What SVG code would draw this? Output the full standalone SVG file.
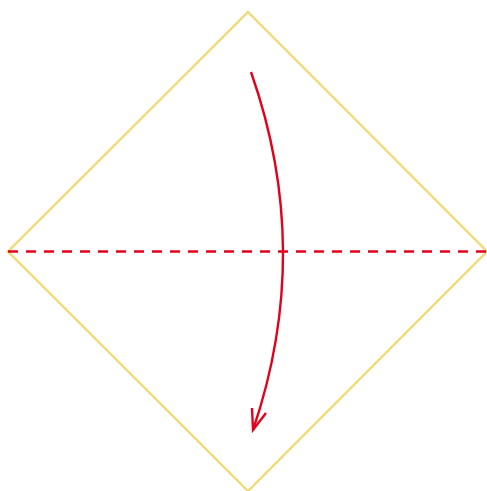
<svg xmlns="http://www.w3.org/2000/svg" width="487" height="491" viewBox="0 0 487 491">
<style>
.edge{fill:none;stroke:#f1d977;stroke-width:2.4}
.red{fill:none;stroke:#e2001a;stroke-width:2.4}
</style>
<rect width="487" height="491" fill="#fff"/>
<g id="diamond">
<polygon class="edge" points="248,12 487,251.5 248,491 8,251.5"/>
</g>
<g id="connectors">
<line class="red" x1="8" y1="251.5" x2="487" y2="251.5" stroke-dasharray="10,8"/>
<path class="red" d="M251,72 Q314,251 253,430"/>
<path class="red" d="M252,408 L253,430 L266,413"/>
</g>
</svg>
